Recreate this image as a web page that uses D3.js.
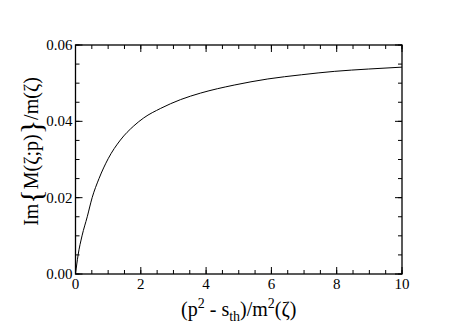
<!DOCTYPE html>
<html>
<head>
<meta charset="utf-8">
<script src="https://cdn.jsdelivr.net/npm/d3@7"></script>
<style>
  body { margin: 0; background: #fff; }
  text { font-family: "Liberation Serif", "DejaVu Serif", serif; fill: #000; }
</style>
</head>
<body>
<div id="chart"></div>
<script>
// values
var xVals = [0, 0.08, 0.2, 0.36, 0.51, 0.72, 1.0, 1.375, 1.785, 2.09, 2.61, 3.22, 3.83, 4.86, 5.89, 6.92, 7.94, 8.97, 10];
var yVals = [0, 0.005, 0.01, 0.015, 0.02, 0.025, 0.0302, 0.0351, 0.0388, 0.0409, 0.0434, 0.0457, 0.0474, 0.0495, 0.0511, 0.0522, 0.0531, 0.0537, 0.0542];
var xTicks = [0, 2, 4, 6, 8, 10];
var yTicks = [0, 0.02, 0.04, 0.06];

var serif = "'Liberation Serif', 'DejaVu Serif', serif";

var margin = { top: 45, right: 61, bottom: 53, left: 75.5 };
var width = 463 - margin.left - margin.right,
    height = 327 - margin.top - margin.bottom;

var svg = d3.select("#chart").append("svg")
    .attr("width", 463)
    .attr("height", 327)
    .append("g")
    .attr("transform", "translate(" + margin.left + "," + margin.top + ")");

var x = d3.scaleLinear().domain([0, 10]).range([0, width]);
var y = d3.scaleLinear().domain([0, 0.06]).range([height, 0]);

var xMinor = d3.range(0, 10.01, 0.5);
var yMinor = d3.range(0, 0.0601, 0.005);

// minor ticks, inward on all four sides
svg.selectAll(".xmin").data(xMinor).enter().append("line")
    .attr("x1", function(d) { return x(d); }).attr("x2", function(d) { return x(d); })
    .attr("y1", height).attr("y2", height - 4)
    .attr("stroke", "#000");
svg.selectAll(".xmint").data(xMinor).enter().append("line")
    .attr("x1", function(d) { return x(d); }).attr("x2", function(d) { return x(d); })
    .attr("y1", 0).attr("y2", 4)
    .attr("stroke", "#000");
svg.selectAll(".ymin").data(yMinor).enter().append("line")
    .attr("x1", 0).attr("x2", 4)
    .attr("y1", function(d) { return y(d); }).attr("y2", function(d) { return y(d); })
    .attr("stroke", "#000");
svg.selectAll(".ymint").data(yMinor).enter().append("line")
    .attr("x1", width).attr("x2", width - 4)
    .attr("y1", function(d) { return y(d); }).attr("y2", function(d) { return y(d); })
    .attr("stroke", "#000");

// major ticks
svg.selectAll(".xmaj").data(xTicks).enter().append("line")
    .attr("x1", function(d) { return x(d); }).attr("x2", function(d) { return x(d); })
    .attr("y1", height).attr("y2", height - 7)
    .attr("stroke", "#000");
svg.selectAll(".xmajt").data(xTicks).enter().append("line")
    .attr("x1", function(d) { return x(d); }).attr("x2", function(d) { return x(d); })
    .attr("y1", 0).attr("y2", 7)
    .attr("stroke", "#000");
svg.selectAll(".ymaj").data(yTicks).enter().append("line")
    .attr("x1", 0).attr("x2", 7)
    .attr("y1", function(d) { return y(d); }).attr("y2", function(d) { return y(d); })
    .attr("stroke", "#000");
svg.selectAll(".ymajt").data(yTicks).enter().append("line")
    .attr("x1", width).attr("x2", width - 7)
    .attr("y1", function(d) { return y(d); }).attr("y2", function(d) { return y(d); })
    .attr("stroke", "#000");

// frame
svg.append("rect")
    .attr("width", width).attr("height", height)
    .attr("fill", "none").attr("stroke", "#000").attr("stroke-width", 1.3);

// tick labels
svg.selectAll(".xlab").data(xTicks).enter().append("text")
    .attr("x", function(d) { return x(d); })
    .attr("y", height + 15)
    .attr("text-anchor", "middle")
    .attr("font-family", serif)
    .style("font-size", "15px")
    .text(function(d) { return d; });

svg.selectAll(".ylab").data(yTicks).enter().append("text")
    .attr("x", -3)
    .attr("y", function(d) { return y(d) + 5; })
    .attr("text-anchor", "end")
    .attr("font-family", serif)
    .style("font-size", "15px")
    .text(function(d) { return d3.format(".2f")(d); });

// the curve
var pts = xVals.map(function(d, i) { return [d, yVals[i]]; });
var line = d3.line()
    .x(function(d) { return x(d[0]); })
    .y(function(d) { return y(d[1]); })
    .curve(d3.curveMonotoneX);

svg.append("path")
    .datum(pts)
    .attr("d", line)
    .attr("fill", "none")
    .attr("stroke", "#000")
    .attr("stroke-width", 1);

// x axis title
var xt = svg.append("text")
    .attr("x", width / 2)
    .attr("y", height + 42)
    .attr("text-anchor", "middle")
    .attr("font-family", serif)
    .style("font-size", "20px");
xt.append("tspan").text("(p");
xt.append("tspan").attr("dy", -8).style("font-size", "14px").text("2");
xt.append("tspan").attr("dy", 8).text(" - s");
xt.append("tspan").attr("dy", 5).style("font-size", "14px").text("th");
xt.append("tspan").attr("dy", -5).text(")/m");
xt.append("tspan").attr("dy", -8).style("font-size", "14px").text("2");
xt.append("tspan").attr("dy", 8).text("(ζ)");

// y axis title
var yt = svg.append("text")
    .attr("transform", "translate(-37.5," + (height / 2 - 8) + ") rotate(-90)")
    .attr("text-anchor", "middle")
    .attr("font-family", serif)
    .style("font-size", "20px");
yt.append("tspan").text("Im");
yt.append("tspan").style("font-size", "30px").attr("dy", 3).text("{");
yt.append("tspan").attr("dy", -3).text("M(ζ;p)");
yt.append("tspan").style("font-size", "30px").attr("dy", 3).text("}");
yt.append("tspan").attr("dy", -3).text("/m(ζ)");
</script>
</body>
</html>
